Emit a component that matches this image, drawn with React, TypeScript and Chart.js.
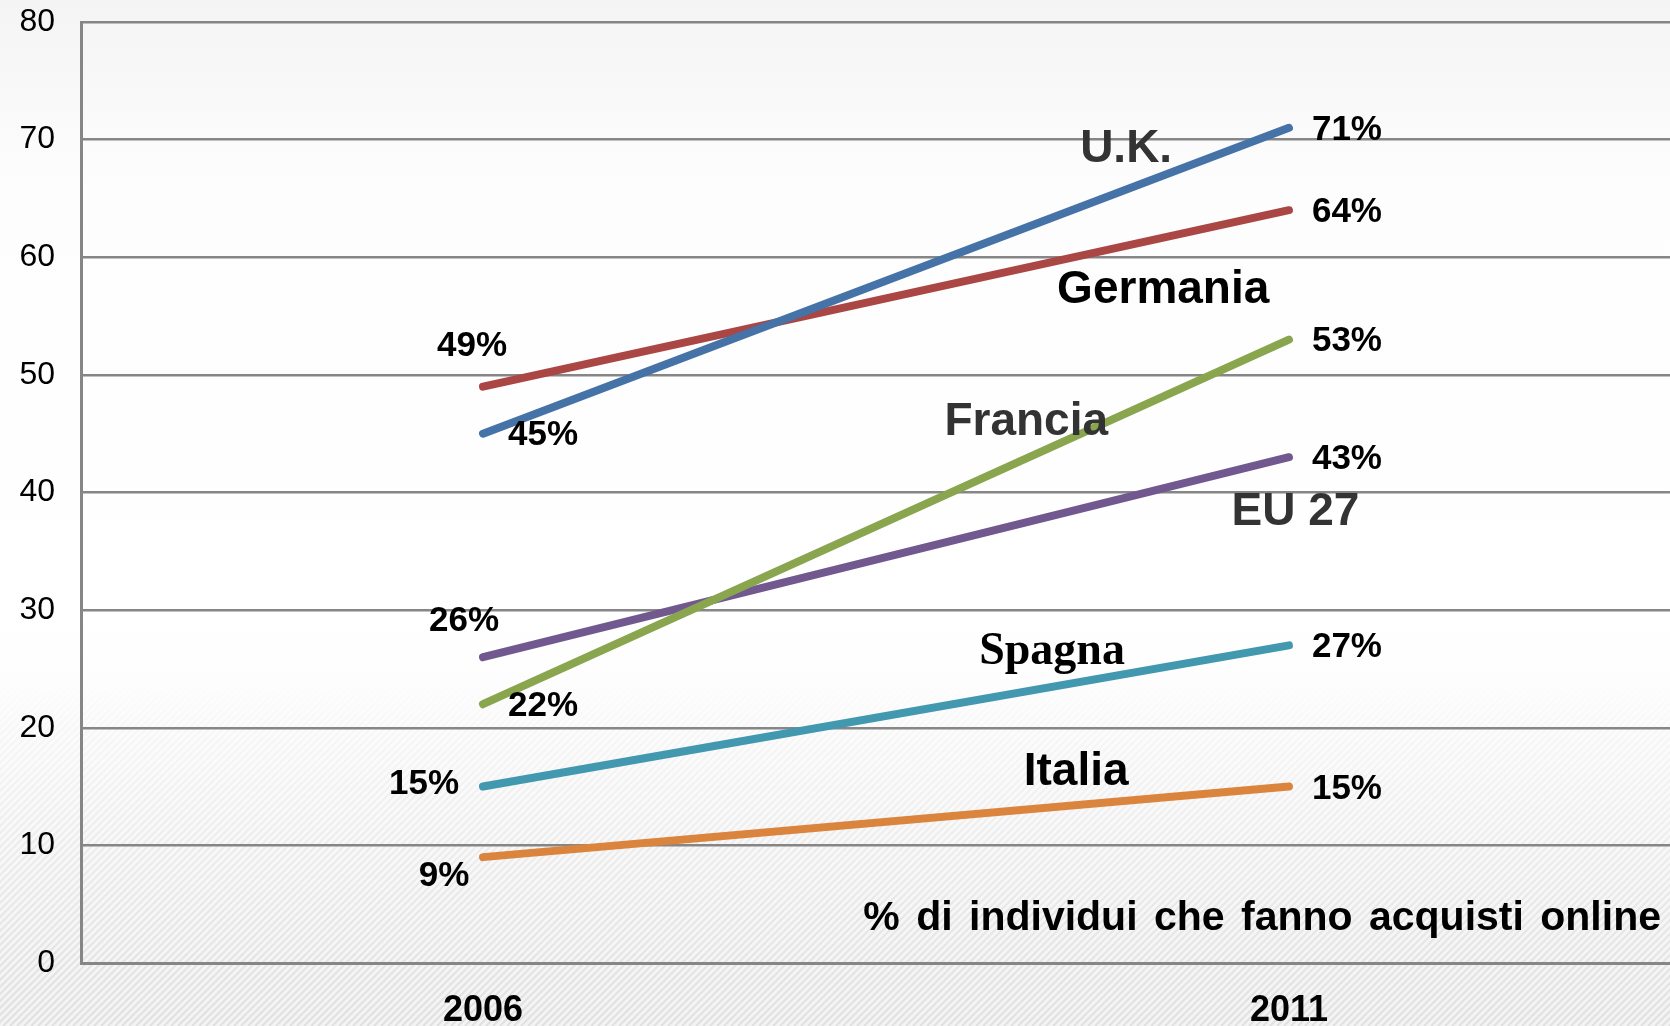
import React, { useEffect, useRef } from "react";
import { Chart, registerables } from "chart.js";

Chart.register(...registerables);

// ---------- DATA ----------
const years = [2006, 2011];
const seriesNames = ["U.K.", "Germania", "Francia", "EU 27", "Spagna", "Italia"];
const ukValues = [45, 71];
const germaniaValues = [49, 64];
const franciaValues = [22, 53];
const eu27Values = [26, 43];
const spagnaValues = [15, 27];
const italiaValues = [9, 15];
const yTickValues = [0, 10, 20, 30, 40, 50, 60, 70, 80];
const footnote = "% di individui che fanno acquisti online";

// ---------- STYLE / LAYOUT ----------
const seriesValues = [ukValues, germaniaValues, franciaValues, eu27Values, spagnaValues, italiaValues];
const seriesColors = ["#4572A7", "#AA4643", "#89A54E", "#71588F", "#4198AF", "#DB843D"];
const nameColors = ["#333333", "#000000", "#333333", "#333333", "#000000", "#000000"];
const nameFonts = [
  "bold 46px 'Liberation Sans', Arial, sans-serif",
  "bold 46px 'Liberation Sans', Arial, sans-serif",
  "bold 46px 'Liberation Sans', Arial, sans-serif",
  "bold 46px 'Liberation Sans', Arial, sans-serif",
  "bold 46px 'Liberation Serif', 'Times New Roman', serif",
  "bold 46px 'Liberation Sans', Arial, sans-serif",
];
// name anchor in data coordinates (year, value)
const nameAnchors = [
  [2009.99, 69.2],
  [2010.22, 57.2],
  [2009.37, 46.0],
  [2011.04, 38.3],
  [2009.53, 26.4],
  [2009.68, 16.2],
];
// value label pixel offsets from each point [2006, 2011]
const labelOffsets = [
  [[60, 2], [58, 2]],
  [[-11, -40], [58, 2]],
  [[60, 2], [58, 2]],
  [[-19, -36], [58, 2]],
  [[-59, -2], [58, 2]],
  [[-39, 19], [58, 3]],
];

const W = 1670;
const H = 1026;
const GRID = "#868686";
const SANS = "'Liberation Sans', Arial, sans-serif";

const backgroundPlugin = {
  id: "bgPaint",
  beforeDraw(chart: any) {
    const { ctx, width, height } = chart;
    ctx.save();
    const g = ctx.createLinearGradient(0, 0, 0, height);
    g.addColorStop(0, "#f4f4f4");
    g.addColorStop(0.18, "#fdfdfd");
    g.addColorStop(0.6, "#ffffff");
    g.addColorStop(1, "#f3f3f3");
    ctx.fillStyle = g;
    ctx.fillRect(0, 0, width, height);

    const off = document.createElement("canvas");
    off.width = width;
    off.height = height;
    const o = off.getContext("2d") as CanvasRenderingContext2D;
    o.strokeStyle = "#e0e0e0";
    o.lineWidth = 2;
    for (let k = -height; k < width + height; k += 7) {
      o.beginPath();
      o.moveTo(k, height);
      o.lineTo(k + height, 0);
      o.stroke();
    }
    o.globalCompositeOperation = "destination-in";
    const m = o.createLinearGradient(0, 0, 0, height);
    m.addColorStop(0, "rgba(0,0,0,0)");
    m.addColorStop(0.66, "rgba(0,0,0,0)");
    m.addColorStop(1, "rgba(0,0,0,1)");
    o.fillStyle = m;
    o.fillRect(0, 0, width, height);
    ctx.drawImage(off, 0, 0);
    ctx.restore();
  },
};

const labelsPlugin = {
  id: "valueLabels",
  afterDatasetsDraw(chart: any) {
    const { ctx, scales } = chart;
    const xs = scales.x;
    const ys = scales.y;
    ctx.save();
    ctx.textAlign = "center";
    ctx.textBaseline = "middle";
    seriesValues.forEach((vals, si) => {
      vals.forEach((v, i) => {
        const px = xs.getPixelForValue(years[i]);
        const py = ys.getPixelForValue(v);
        const [dx, dy] = labelOffsets[si][i];
        ctx.font = `bold 35px ${SANS}`;
        ctx.fillStyle = "#000000";
        ctx.fillText(`${v}%`, px + dx, py + dy);
      });
      const [ax, ay] = nameAnchors[si];
      ctx.font = nameFonts[si];
      ctx.fillStyle = nameColors[si];
      ctx.fillText(seriesNames[si], xs.getPixelForValue(ax), ys.getPixelForValue(ay));
    });
    ctx.font = `bold 41px ${SANS}`;
    (ctx as any).wordSpacing = "5px";
    ctx.fillStyle = "#000000";
    ctx.textAlign = "right";
    ctx.fillText(footnote, 1661, ys.getPixelForValue(3.8));
    ctx.restore();
  },
};

export default function App() {
  const ref = useRef<HTMLCanvasElement | null>(null);

  useEffect(() => {
    if (!ref.current) return;
    const chart = new Chart(ref.current, {
      type: "line",
      data: {
        datasets: seriesNames.map((name, si) => ({
          label: name,
          data: years.map((y, i) => ({ x: y, y: seriesValues[si][i] })),
          borderColor: seriesColors[si],
          backgroundColor: seriesColors[si],
          borderWidth: 8,
          borderCapStyle: "round" as const,
          pointRadius: 0,
          fill: false,
        })),
      },
      options: {
        responsive: false,
        animation: false,
        devicePixelRatio: 1,
        layout: { padding: { top: 0, left: 0, right: 0, bottom: 0 } },
        plugins: {
          legend: { display: false },
          tooltip: { enabled: false },
          title: { display: false },
        },
        scales: {
          x: {
            type: "linear",
            min: 2003.506,
            max: 2013.364,
            afterBuildTicks: (s: any) => {
              s.ticks = years.map((v) => ({ value: v }));
            },
            afterFit: (s: any) => {
              s.height = 63;
              s.paddingLeft = 0;
              s.paddingRight = 0;
            },
            grid: { display: false, drawTicks: false, tickLength: 0 },
            border: { display: true, color: GRID, width: 3 },
            ticks: {
              padding: 26,
              color: "#000000",
              font: { family: SANS, size: 36, weight: "bold" },
              callback: (v: any) => String(v),
              maxRotation: 0,
            },
          },
          y: {
            type: "linear",
            min: 0,
            max: 80,
            afterBuildTicks: (s: any) => {
              s.ticks = yTickValues.map((v) => ({ value: v }));
            },
            afterFit: (s: any) => {
              s.width = 81;
              s.paddingTop = 22;
              s.paddingBottom = 0;
            },
            grid: { color: GRID, lineWidth: 2.5, drawTicks: false, tickLength: 0 },
            border: { display: true, color: GRID, width: 3 },
            ticks: {
              padding: 26,
              color: "#000000",
              font: { family: SANS, size: 32 },
            },
          },
        },
      },
      plugins: [backgroundPlugin, labelsPlugin],
    } as any);
    return () => chart.destroy();
  }, []);

  return (
    <div style={{ position: "fixed", left: 0, top: 0, width: W, height: H, overflow: "hidden" }}>
      <canvas ref={ref} width={W} height={H} style={{ display: "block", width: W, height: H }} />
    </div>
  );
}
